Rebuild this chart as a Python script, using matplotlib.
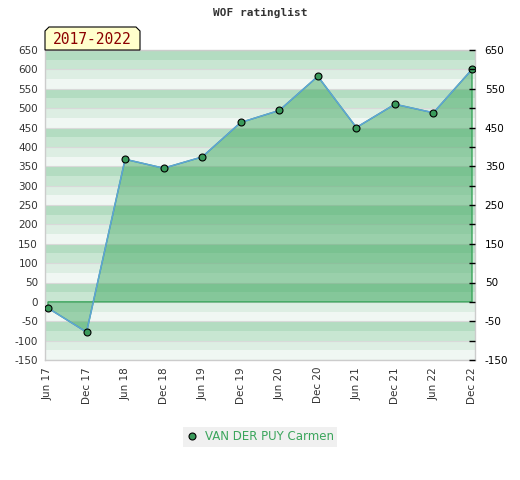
import matplotlib
matplotlib.use("Agg")
import matplotlib.pyplot as plt
from matplotlib.lines import Line2D
from matplotlib.patches import Polygon

# === Data ===
periods = ['Jun 17', 'Dec 17', 'Jun 18', 'Dec 18', 'Jun 19', 'Dec 19',
           'Jun 20', 'Dec 20', 'Jun 21', 'Dec 21', 'Jun 22', 'Dec 22']
rating = [-16, -78, 368, 345, 374, 463, 494, 582, 450, 510, 488, 600]
player = 'VAN DER PUY Carmen'
left_ticks = list(range(-150, 651, 50))
right_labels = list(range(-150, 651, 100))

W, H = 520, 480
fig = plt.figure(figsize=(W / 100, H / 100), dpi=100)
ax = fig.add_axes([45 / W, 1 - 360 / H, 430 / W, 310 / H])

x = list(range(len(periods)))
pad = 3 / 38.5
ax.set_xlim(-pad, len(periods) - 1 + pad)
ax.set_ylim(-150, 650)

# striped background, 25 units per stripe
band_colors = ['#f0f7f3', '#ddeee3', '#c8e6d2', '#b3dcc1']
for i, lo in enumerate(range(-150, 650, 25)):
    ax.axhspan(lo, lo + 25, color=band_colors[i % 4], lw=0, zorder=0)
for v in left_ticks:
    ax.axhline(v, color='#d9d9d9', lw=0.8, zorder=0.5)

# area under the rating
poly_x = [x[0]] + x + [x[-1]]
poly_y = [0] + rating + [0]
ax.fill(poly_x, poly_y, facecolor='#3aa55b', alpha=0.47, lw=0, zorder=1)
ax.fill(poly_x, poly_y, facecolor='none', edgecolor='#3aa55b', lw=1, zorder=2)
ax.plot(x, rating, color='#5fa3d9', lw=1.1, zorder=3)
ax.plot(x, rating, 'o', ms=5, mfc='#3a9a5b', mec='black', mew=0.8, zorder=4)

ax.set_xticks(x)
ax.set_xticklabels(periods, rotation=90, fontsize=7.5, color='#333333')
ax.set_yticks(left_ticks)
ax.set_yticklabels([str(v) for v in left_ticks], fontsize=7.5, color='#333333')
ax.tick_params(axis='both', length=0, pad=5)
for s in ax.spines.values():
    s.set_color('#cccccc')
    s.set_linewidth(1)

# right axis
ax2 = ax.twinx()
ax2.set_ylim(-150, 650)
ax2.set_yticks(left_ticks)
ax2.set_yticklabels([str(v) if v in right_labels else '' for v in left_ticks],
                    fontsize=7.5, color='black')
ax2.tick_params(axis='y', direction='in', length=4, width=1, pad=7, color='black')
for s in ax2.spines.values():
    s.set_visible(False)

# title
fig.text(260 / W, 1 - 13 / H, 'WOF ratinglist', ha='center', va='center',
         fontsize=8, family='DejaVu Sans Mono', fontweight='bold', color='#333333')

# period label box with cut corners
l, r, t, b, c = 45, 140, 27, 50, 4
pts = [(l, b), (l, t + c), (l + c, t), (r - c, t), (r, t + c), (r, b)]
pts = [(px / W, 1 - py / H) for px, py in pts]
fig.patches.append(Polygon(pts, closed=True, transform=fig.transFigure,
                           facecolor='#ffffcc', edgecolor='black', lw=0.8))
fig.text(92.5 / W, 1 - 39.5 / H, '2017-2022', ha='center', va='center',
         fontsize=10.5, family='DejaVu Sans Mono', color='#8b0000')

# legend
handle = Line2D([], [], ls='none', marker='o', ms=5, mfc='#3a9a5b', mec='black', mew=0.8)
leg = fig.legend([handle], [player], loc='center', bbox_to_anchor=(260 / W, 1 - 437 / H),
                 fontsize=8.5, frameon=True, fancybox=False, facecolor='#f0f0f0',
                 edgecolor='none', labelcolor='#3aa55b', handlelength=1,
                 handletextpad=0.6, borderpad=0.3)
leg.get_frame().set_alpha(1)

fig.savefig('out.png', dpi=100)
